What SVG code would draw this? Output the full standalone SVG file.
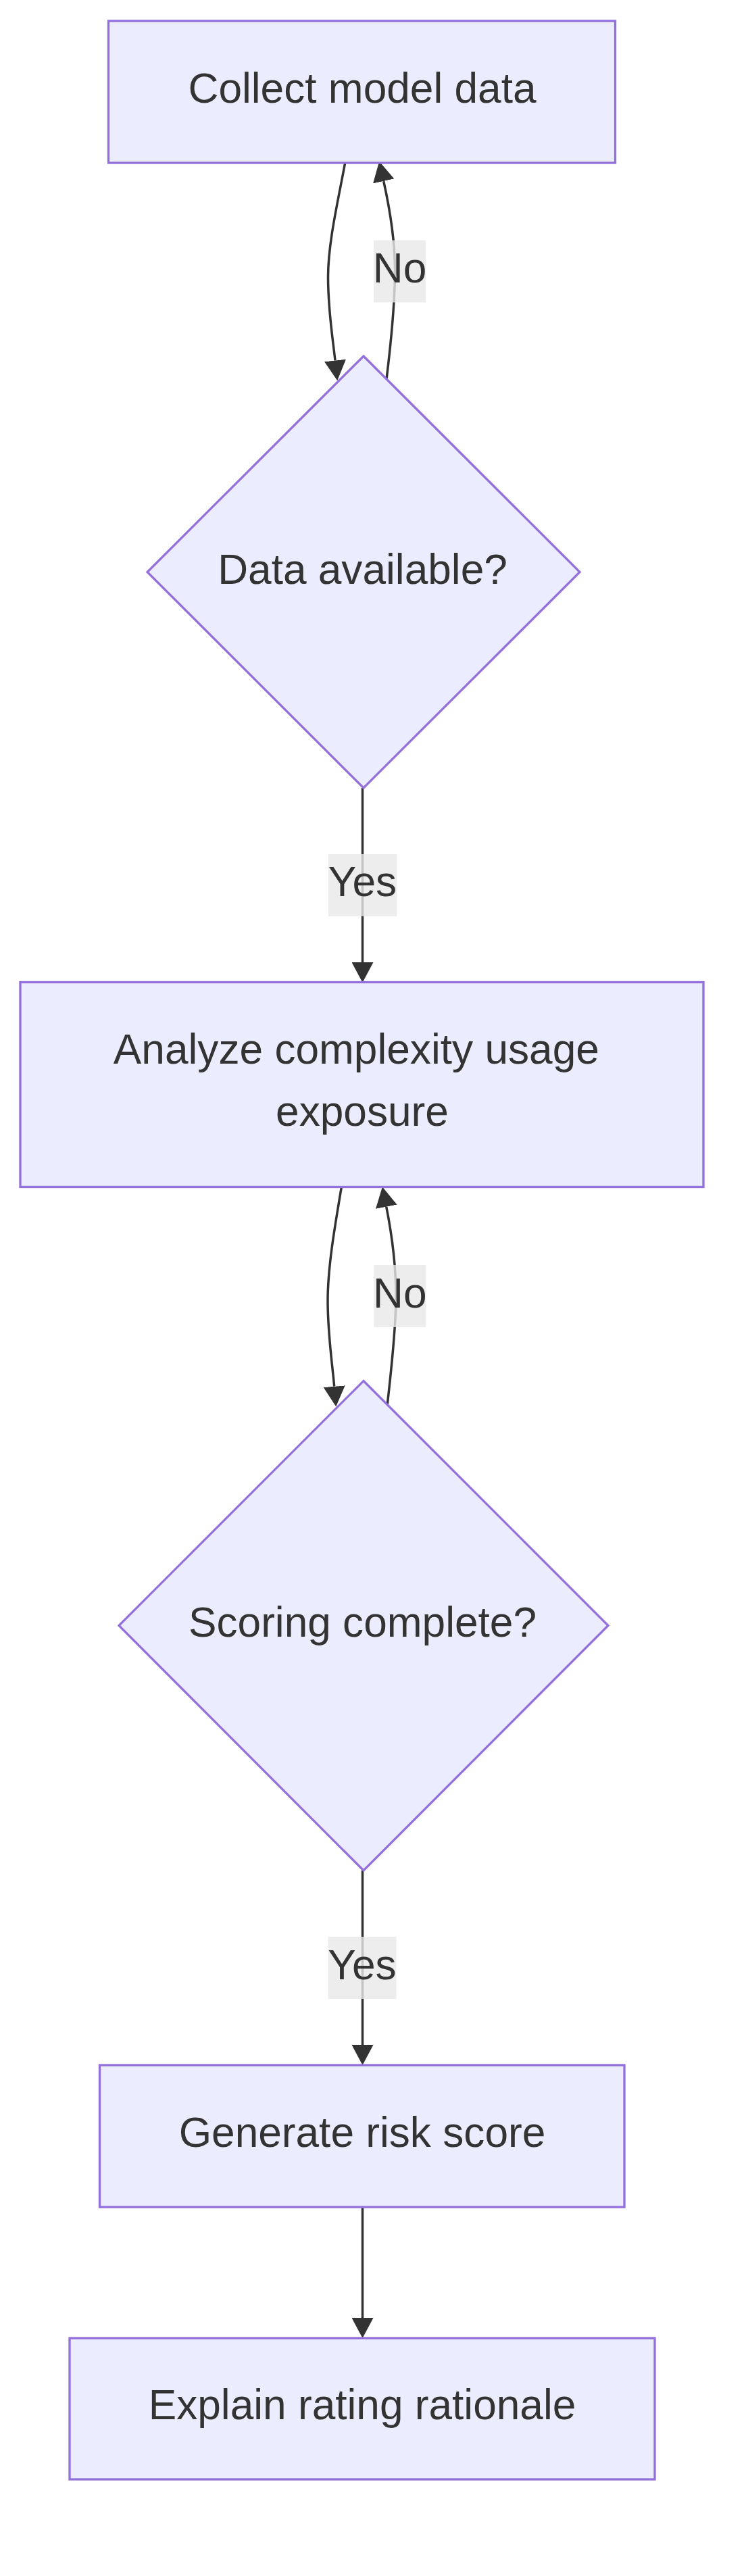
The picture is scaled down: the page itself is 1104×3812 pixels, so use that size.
<svg xmlns="http://www.w3.org/2000/svg" width="1104" height="3812" viewBox="0 0 1104 3812">
<defs>
<style>
.node rect, .node polygon { fill: #ECECFF; stroke: #9370DB; stroke-width: 3.3; }
.lbl { font-family: "Liberation Sans", Arial, sans-serif; font-size: 62.2px; fill: #333333; text-anchor: middle; }
.edge { fill: none; stroke: #333333; stroke-width: 3.5; }
.elbg { fill: #e8e8e8; fill-opacity: 0.8; }
</style>
<marker id="arrow" markerUnits="userSpaceOnUse" viewBox="0 0 10 10" refX="0" refY="5" markerWidth="30" markerHeight="32" preserveAspectRatio="none" orient="auto">
<path d="M0,0 L10,5 L0,10 z" fill="#333333"/>
</marker>
</defs>
<rect x="0" y="0" width="1104" height="3812" fill="#ffffff"/>
<g id="connectors">
<path class="edge" marker-end="url(#arrow)" d="M510.7,241 C499.5,301 485.5,360 485.5,410 C485.5,460 492.4,500 496,533.5"/>
<path class="edge" marker-end="url(#arrow)" d="M572,561 C578,512 584.5,445 584.5,400 C584.5,355 576.7,308.5 567.7,268"/>
<path class="edge" marker-end="url(#arrow)" d="M536.5,1166 L536.5,1424"/>
<path class="edge" marker-end="url(#arrow)" d="M505.3,1757 C495.5,1815 485,1875 485,1925 C485,1975 492,2020 494.7,2051.7"/>
<path class="edge" marker-end="url(#arrow)" d="M573.3,2078 C578,2035 586,1970 586,1918 C586,1866 577.4,1814.4 571.7,1785.7"/>
<path class="edge" marker-end="url(#arrow)" d="M536.5,2768 L536.5,3026"/>
<path class="edge" marker-end="url(#arrow)" d="M536.5,3266 L536.5,3430"/>
<g id="edge-labels">
<rect class="elbg" x="553" y="355.5" width="77" height="92"/>
<text class="lbl" x="591.5" y="418">No</text>
<rect class="elbg" x="486" y="1264" width="101" height="92"/>
<text class="lbl" x="536.5" y="1326">Yes</text>
<rect class="elbg" x="553.3" y="1872" width="77" height="92"/>
<text class="lbl" x="591.8" y="1935">No</text>
<rect class="elbg" x="485.5" y="2866" width="101" height="92"/>
<text class="lbl" x="536" y="2929">Yes</text>
</g>
</g>
<g id="node-collect" class="node">
<rect x="160.5" y="31" width="750" height="210"/>
<text class="lbl" x="536" y="152">Collect model data</text>
</g>
<g id="node-data-available" class="node">
<polygon points="538,527 858,846.5 538,1166 218,846.5"/>
<text class="lbl" x="536.5" y="864">Data available?</text>
</g>
<g id="node-analyze" class="node">
<rect x="30" y="1453.5" width="1011" height="303"/>
<text class="lbl" x="536" y="1574"><tspan x="536">Analyze complexity usage </tspan><tspan x="536" y="1666">exposure</tspan></text>
</g>
<g id="node-scoring" class="node">
<polygon points="538,2043.5 900,2405.5 538,2768 176,2405.5"/>
<text class="lbl" x="536.5" y="2422">Scoring complete?</text>
</g>
<g id="node-generate" class="node">
<rect x="147.5" y="3056" width="776.5" height="210"/>
<text class="lbl" x="536" y="3177">Generate risk score</text>
</g>
<g id="node-explain" class="node">
<rect x="103" y="3460" width="866" height="209"/>
<text class="lbl" x="536" y="3580">Explain rating rationale</text>
</g>
</svg>
